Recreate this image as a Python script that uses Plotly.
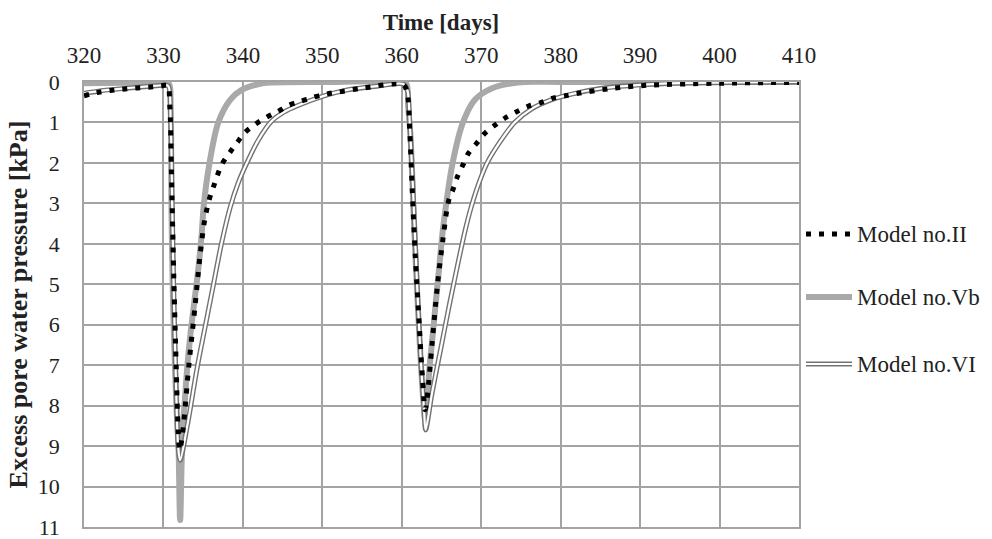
import plotly.graph_objects as go

# ---- data ----
t_II = [320, 321.6, 323.3, 324.8, 326.4, 328.1, 329.7, 330.5, 330.8, 331.0, 331.3, 331.6, 331.85, 332.05,
        332.4, 333.2, 334.0, 334.6, 335.2, 335.8, 336.3, 336.8, 337.4, 338.4, 339.3, 340.3, 341.6,
        343.0, 344.4, 345.7, 347.2, 348.8, 350.4, 352.0, 355.1, 360.2,
        360.7, 361.0, 361.3, 361.7, 362.2, 362.6, 362.95,
        363.2, 363.8, 364.5, 365.2, 365.9, 366.5, 367.0, 367.7, 368.4, 369.4, 370.4, 371.7, 373.0,
        374.4, 375.9, 377.5, 379.0, 380.6, 382.2, 386.0, 391.0, 400.0, 410.0]
p_II = [0.34, 0.26, 0.21, 0.18, 0.15, 0.13, 0.10, 0.08, 0.6, 2.2, 4.8, 7.0, 8.6, 9.1,
        8.7, 7.0, 5.5, 4.3, 3.4, 2.88, 2.59, 2.30, 2.02, 1.73, 1.49, 1.24, 1.04,
        0.87, 0.73, 0.58, 0.48, 0.38, 0.30, 0.25, 0.15, 0.07,
        0.3, 1.2, 2.6, 4.3, 6.0, 7.3, 8.1,
        7.8, 6.5, 5.0, 3.86, 2.93, 2.63, 2.34, 2.05, 1.76, 1.52, 1.28, 1.07, 0.89,
        0.74, 0.60, 0.51, 0.40, 0.34, 0.28, 0.17, 0.08, 0.03, 0.01]

t_Vb = [320, 325, 330, 330.7, 330.9, 331.0, 331.2, 331.6, 331.9, 332.1, 332.4, 332.7, 333.0, 333.4,
        333.9, 334.4, 334.8, 335.1, 335.8, 336.9, 338.4, 339.8, 342.0, 343.0, 350.0, 360.0,
        360.6, 360.8, 361.1, 361.6, 362.2, 362.7, 362.95, 363.2, 363.5, 363.9, 364.3, 364.7,
        365.1, 365.6, 366.4, 367.7, 369.2, 371.3, 374.6, 380.0, 410.0]
p_Vb = [0.03, 0.02, 0.01, 0.05, 0.52, 2.97, 5.41, 7.86, 9.08, 10.83, 8.67, 7.86, 7.04, 6.23,
        5.41, 4.6, 3.78, 3.0, 2.0, 1.0, 0.44, 0.2, 0.05, 0.02, 0.0, 0.0,
        0.05, 0.6, 1.34, 3.78, 6.23, 7.86, 8.35, 7.86, 7.04, 6.23, 5.41, 4.6,
        3.78, 3.0, 2.0, 1.0, 0.44, 0.16, 0.01, 0.0, 0.0]

t_VI = [320, 322, 325, 328, 330, 330.6, 330.9, 331.1, 331.3, 331.6, 331.85, 332.1, 333.0, 334.3,
        335.3, 336.3, 337.3, 338.4, 339.4, 340.5, 341.9, 343.6, 345.2, 346.7, 350.1, 353.0, 357.0, 360.2,
        360.7, 361.0, 361.4, 361.9, 362.4, 362.8, 363.0, 363.8, 365.0, 366.0, 367.0, 368.0, 368.8,
        369.8, 370.8, 372.3, 374.2, 376.3, 378.8, 381.8, 385.0, 390.0, 395.0, 410.0]
p_VI = [0.28, 0.22, 0.16, 0.11, 0.08, 0.1, 0.9, 3.0, 5.2, 7.6, 9.0, 9.35, 8.5, 7.0,
        6.0, 5.0, 4.0, 3.1, 2.5, 2.0, 1.45, 0.97, 0.74, 0.6, 0.35, 0.2, 0.1, 0.05,
        0.2, 1.0, 2.6, 4.9, 6.9, 8.1, 8.6, 7.7, 6.5, 5.5, 4.55, 3.65, 3.05,
        2.45, 1.98, 1.5, 1.0, 0.67, 0.44, 0.28, 0.16, 0.07, 0.03, 0.0]

x_ticks = [320, 330, 340, 350, 360, 370, 380, 390, 400, 410]
y_ticks = list(range(0, 12))
legend_names = ["Model no.II", "Model no.Vb", "Model no.VI"]

FONT = "Liberation Serif"
GRID = "#a3a3a3"
TXT = "#222222"
SM = 0.9
C_VB = "#a9a9a9"
C_VI = "#727272"
DOTS = "5px,8px"

fig = go.Figure()
fig.add_trace(go.Scatter(x=t_Vb, y=p_Vb, mode="lines", name=legend_names[1], showlegend=False,
                         line=dict(color=C_VB, width=6, shape="spline", smoothing=SM)))
fig.add_trace(go.Scatter(x=t_VI, y=p_VI, mode="lines", name=legend_names[2], showlegend=False,
                         line=dict(color=C_VI, width=5, shape="spline", smoothing=SM)))
fig.add_trace(go.Scatter(x=t_VI, y=p_VI, mode="lines", name=legend_names[2], showlegend=False,
                         line=dict(color="white", width=2.2, shape="spline", smoothing=SM),
                         hoverinfo="skip"))
fig.add_trace(go.Scatter(x=t_II, y=p_II, mode="lines", name=legend_names[0], showlegend=False,
                         line=dict(color="black", width=5, dash=DOTS, shape="spline", smoothing=SM)))

# ---- legend drawn beside the plot (pixel layout -> paper coords) ----
L, R, T, B = 84, 799, 82, 527
def px(xp):
    return (xp - L) / (R - L)
def py(yp):
    return (B - yp) / (B - T)

leg_y = [234, 297, 364]
sym_x0, sym_x1, txt_x = 806, 852, 855
leg_styles = [
    [dict(color="black", width=5, dash=DOTS)],
    [dict(color=C_VB, width=6)],
    [dict(color=C_VI, width=5), dict(color="white", width=2.2)],
]
shapes = []
annotations = []
for name, yp, styles in zip(legend_names, leg_y, leg_styles):
    for st in styles:
        shapes.append(dict(type="line", xref="paper", yref="paper",
                           x0=px(sym_x0), x1=px(sym_x1), y0=py(yp), y1=py(yp), line=st))
    annotations.append(dict(text=name, xref="paper", yref="paper", x=px(txt_x), y=py(yp),
                            xanchor="left", yanchor="middle", showarrow=False,
                            font=dict(family=FONT, size=23, color=TXT)))

fig.update_layout(
    width=992, height=539,
    margin=dict(l=L, r=992 - R, t=T, b=539 - B),
    plot_bgcolor="white", paper_bgcolor="white",
    font=dict(family=FONT, size=22, color=TXT),
    showlegend=False,
    shapes=shapes, annotations=annotations,
    title=dict(text="<b>Time [days]</b>", x=(441 / 992), xanchor="center", y=0.975, yanchor="top",
               font=dict(family=FONT, size=23, color=TXT)),
)
fig.update_xaxes(range=[320, 410], side="top", tickvals=x_ticks, ticktext=[str(v) for v in x_ticks],
                 showgrid=True, gridcolor=GRID, gridwidth=1.5, zeroline=False, automargin=False,
                 showline=True, linecolor=GRID, linewidth=1.5, mirror=True,
                 ticks="", ticklabelstandoff=8, ticklabeloverflow="allow",
                 tickfont=dict(family=FONT, size=23, color=TXT))
fig.update_yaxes(range=[11, 0], tickvals=y_ticks, ticktext=[str(v) for v in y_ticks],
                 showgrid=True, gridcolor=GRID, gridwidth=1.5, zeroline=False, automargin=False,
                 showline=True, linecolor=GRID, linewidth=1.5, mirror=True,
                 ticks="", ticklabelstandoff=18, ticklabeloverflow="allow",
                 tickfont=dict(family=FONT, size=22, color=TXT),
                 title=dict(text="<b>Excess pore water pressure [kPa]</b>", standoff=3,
                            font=dict(family=FONT, size=26, color=TXT)))

fig.write_html("out.html", config={"displayModeBar": False},
               post_script="document.body.style.margin='0';")
